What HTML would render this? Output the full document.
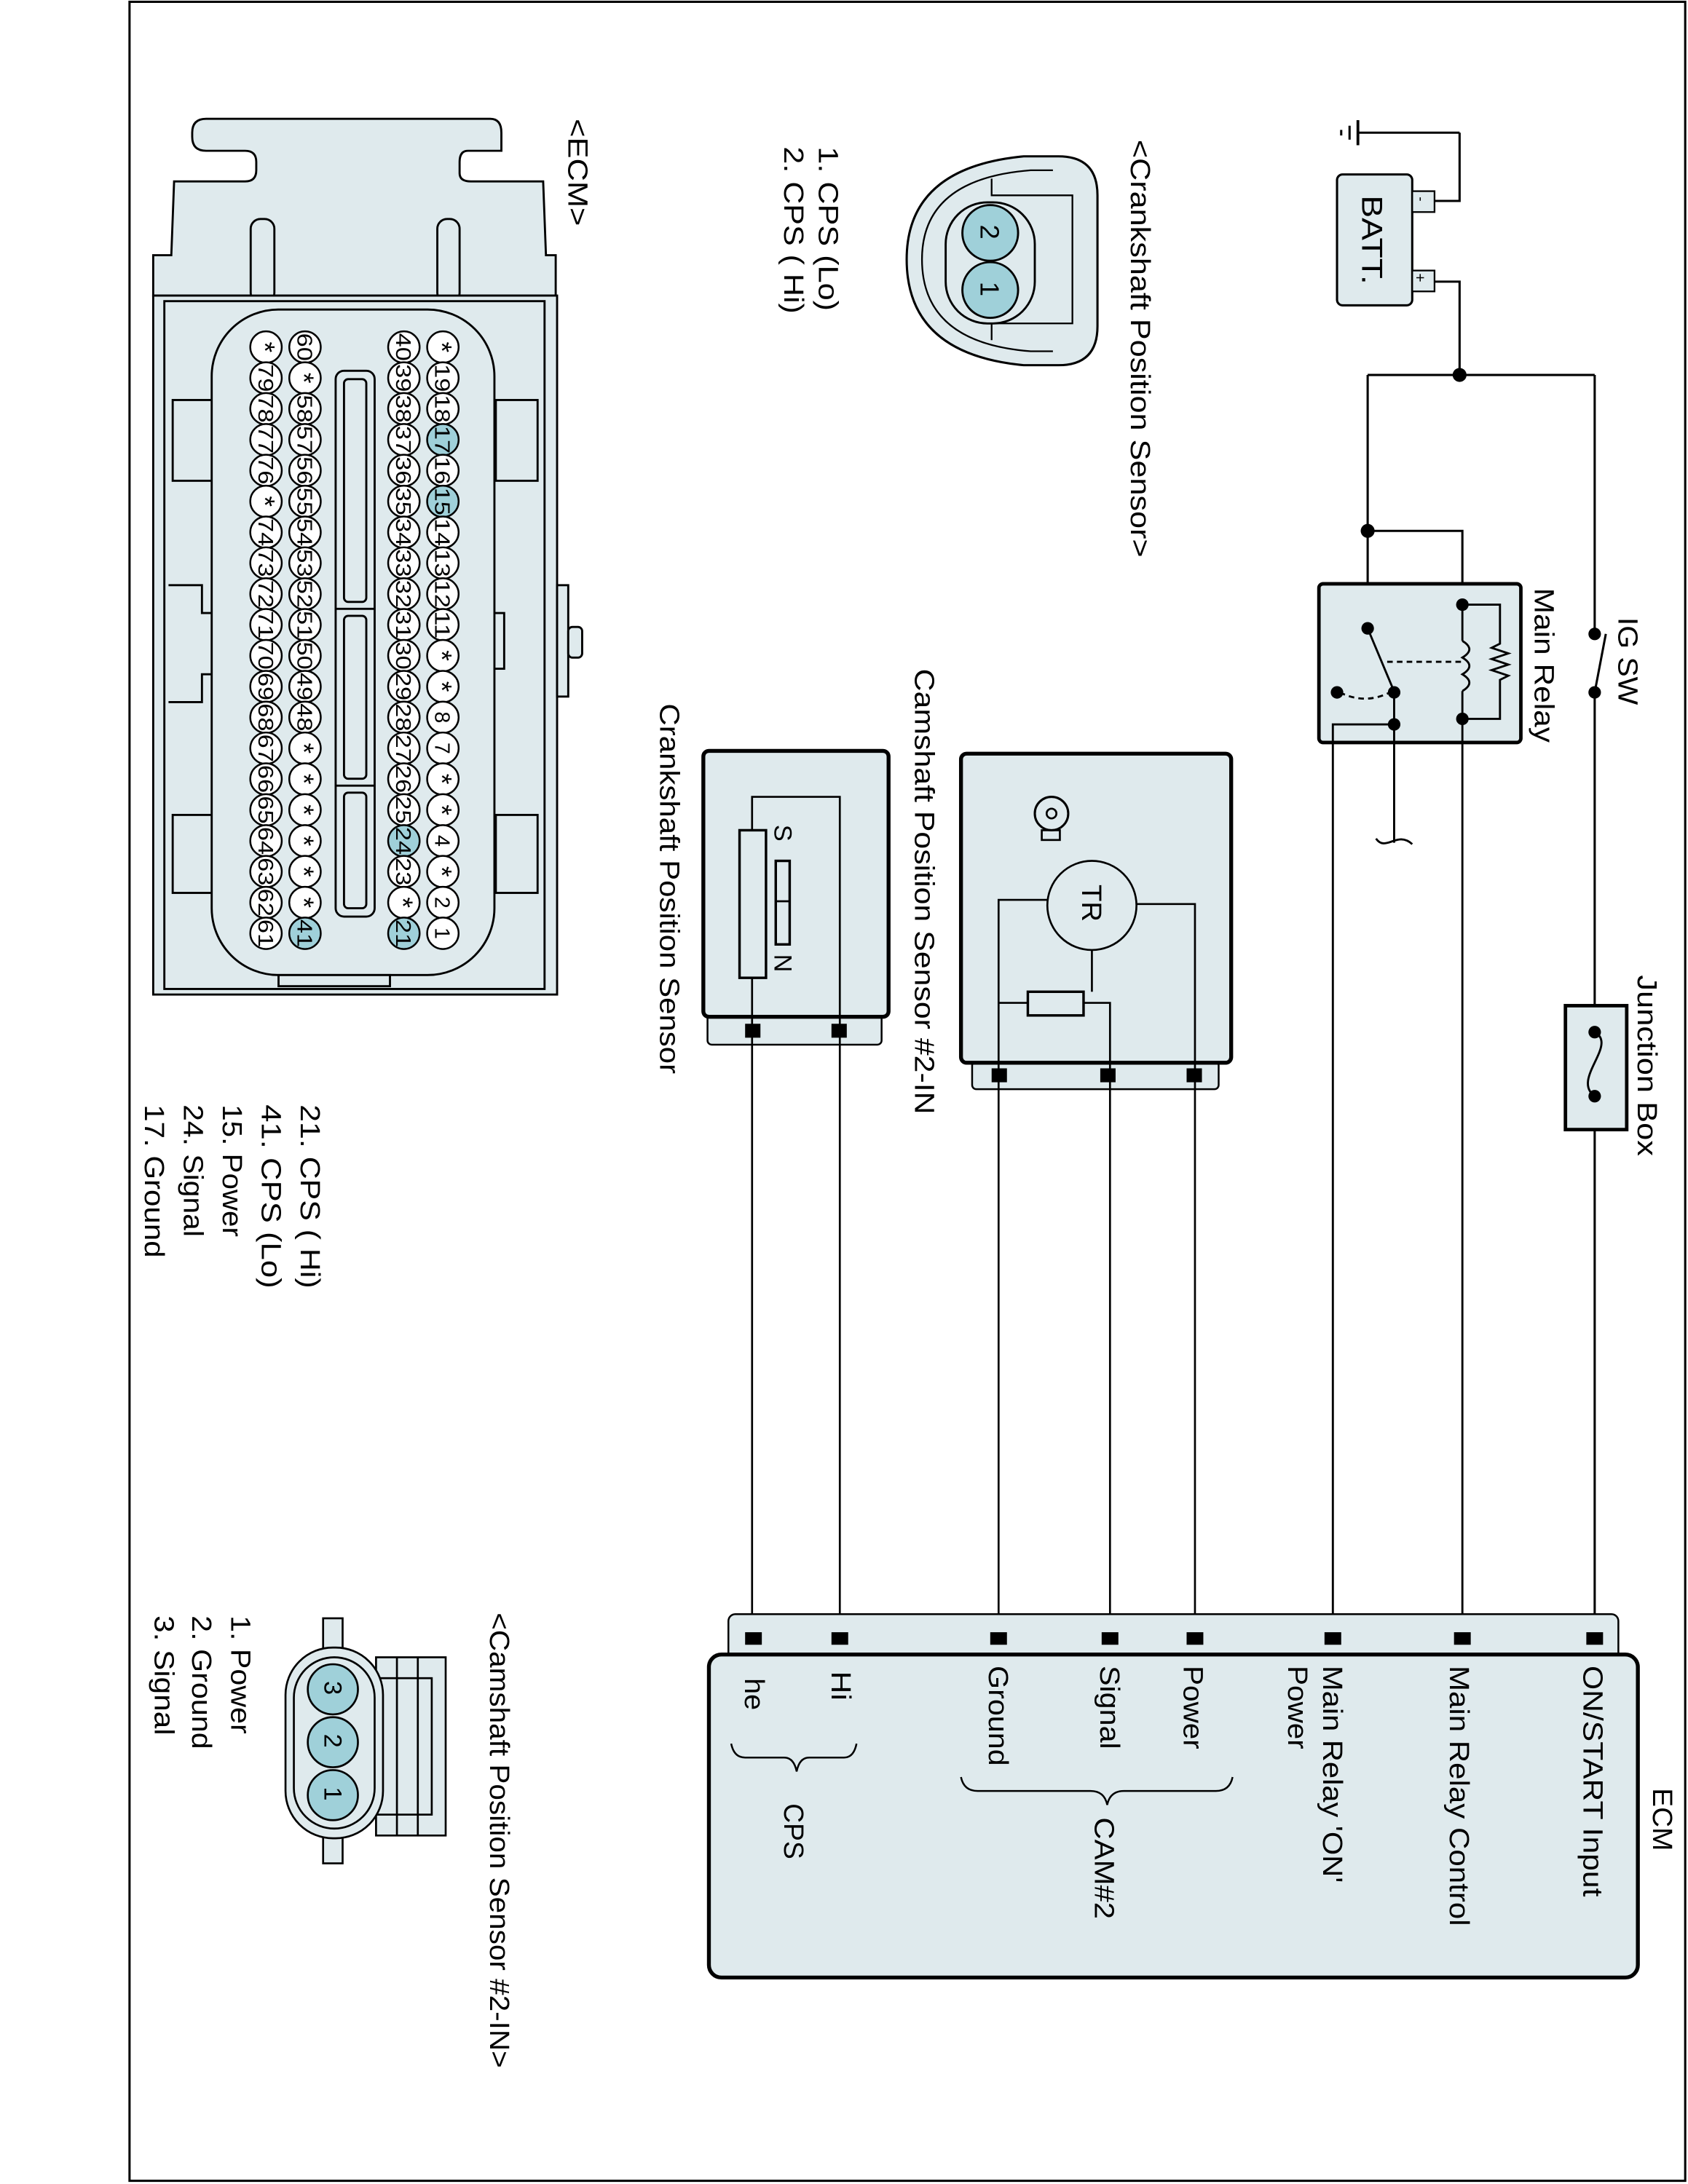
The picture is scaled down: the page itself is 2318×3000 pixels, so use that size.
<!DOCTYPE html>
<html><head><meta charset="utf-8"><style>
html,body{margin:0;padding:0;background:#fff;}
svg{display:block;}
text{font-family:"Liberation Sans",Arial,sans-serif;fill:#000;}
</style></head><body>
<svg width="2318" height="3000" viewBox="0 0 1212 1568" xmlns="http://www.w3.org/2000/svg">
<rect x="93" y="1" width="1117" height="1565" fill="none" stroke="#000" stroke-width="1.6"/>

<g stroke="#000" stroke-width="1.6" fill="none">
<line x1="975" y1="95" x2="1048" y2="95"/>
<line x1="975" y1="86" x2="975" y2="104" stroke-width="2"/>
<line x1="969" y1="90" x2="969" y2="100"/>
<line x1="963" y1="93" x2="963" y2="97"/>
<polyline points="1048,95 1048,144 1030,144"/>
<polyline points="1030,202 1048,202 1048,269"/>
<line x1="982" y1="269" x2="1145" y2="269"/>
<line x1="982" y1="269" x2="982" y2="451"/>
<polyline points="982,381 1050,381 1050,434"/>
<line x1="1145" y1="269" x2="1145" y2="455"/>
<line x1="1145" y1="497" x2="1145" y2="741"/>
<line x1="1145" y1="787" x2="1145" y2="1174"/>
<line x1="1145" y1="497" x2="1153" y2="455"/>
</g>
<rect x="960" y="125" width="54" height="94" rx="4" fill="#dfeaed" stroke="#000" stroke-width="1.6"/>
<rect x="1014" y="137" width="16" height="15" fill="#dfeaed" stroke="#000" stroke-width="1.2"/>
<rect x="1014" y="194" width="16" height="15" fill="#dfeaed" stroke="#000" stroke-width="1.2"/>
<text font-size="10" transform="translate(1017,141) rotate(90)">-</text>
<text font-size="11" transform="translate(1016,196) rotate(90)">+</text>
<text font-size="21" transform="translate(978,140) rotate(90)" textLength="64" lengthAdjust="spacingAndGlyphs">BATT.</text>
<circle cx="1048" cy="269" r="5"/>
<circle cx="982" cy="381" r="5"/>
<circle cx="1145" cy="455" r="4.5"/>
<circle cx="1145" cy="497" r="4.5"/>

<rect x="947" y="419" width="145" height="114" rx="3" fill="#dfeaed" stroke="#000" stroke-width="2.5"/>
<g stroke="#000" stroke-width="1.5" fill="none">
<line x1="982" y1="451" x2="1000" y2="494"/>
<line x1="996" y1="475" x2="1050" y2="475" stroke-dasharray="4,3"/>
<path d="M962,497 Q980,506 998,497" stroke-dasharray="4,3"/>
<polyline points="1001,520 957,520 957,1174"/>
<line x1="1001" y1="497" x2="1001" y2="605"/>
<path d="M988,602 C995,612 1003,596 1014,606"/>
<path d="M1050,434 L1050,460 M1050,460 q10,6 0,12 q10,6 0,12 q10,6 0,12 M1050,496 L1050,516"/>
<polyline points="1050,434 1077,434 1077,462 1071,465 1083,469 1071,473 1083,477 1071,481 1083,485 1077,488 1077,516 1050,516"/>
<line x1="1050" y1="516" x2="1050" y2="1174"/>
</g>
<circle cx="982" cy="451" r="4.5"/>
<circle cx="1050" cy="434" r="4.5"/>
<circle cx="1050" cy="516" r="4.5"/>
<circle cx="960" cy="497" r="4.5"/>
<circle cx="1001" cy="497" r="4.5"/>
<circle cx="1001" cy="520" r="4.5"/>
<text font-size="20" transform="translate(1102,422) rotate(90)" textLength="111" lengthAdjust="spacingAndGlyphs">Main Relay</text>
<text font-size="20" transform="translate(1162,443) rotate(90)" textLength="63" lengthAdjust="spacingAndGlyphs">IG SW</text>

<rect x="1124" y="722" width="44" height="89" fill="#dfeaed" stroke="#000" stroke-width="2.5"/>
<path d="M1145,741 C1162,750 1128,775 1145,787" stroke="#000" stroke-width="1.5" fill="none"/>
<circle cx="1145" cy="741" r="4.5"/>
<circle cx="1145" cy="787" r="4.5"/>
<text font-size="20" transform="translate(1176,700) rotate(90)" textLength="130" lengthAdjust="spacingAndGlyphs">Junction Box</text>

<rect x="698" y="762" width="177" height="20" rx="3" fill="#dfeaed" stroke="#000" stroke-width="1.3"/>
<rect x="690" y="541" width="194" height="222" rx="4" fill="#dfeaed" stroke="#000" stroke-width="2.8"/>
<g stroke="#000" stroke-width="1.4" fill="none">
<circle cx="784" cy="650" r="32"/>
<polyline points="752,646 717,646 717,1174"/>
<polyline points="816,649 858,649 858,1174"/>
<line x1="784" y1="682" x2="784" y2="712"/>
<rect x="738" y="712" width="40" height="17" stroke-width="1.8"/>
<line x1="717" y1="720" x2="738" y2="720"/>
<polyline points="778,720 797,720 797,1174"/>
<circle cx="755" cy="584" r="12" stroke-width="1.6"/>
<circle cx="755" cy="584" r="3.5"/>
<rect x="748" y="596" width="13" height="7"/>
</g>
<text font-size="20" transform="translate(777,635) rotate(90)">TR</text>
<rect x="712" y="767" width="11" height="10"/>
<rect x="790" y="767" width="11" height="10"/>
<rect x="852" y="767" width="11" height="10"/>
<text font-size="20" transform="translate(657,480) rotate(90)" textLength="320" lengthAdjust="spacingAndGlyphs">Camshaft Position Sensor #2-IN</text>

<rect x="508" y="728" width="125" height="22" rx="3" fill="#dfeaed" stroke="#000" stroke-width="1.3"/>
<rect x="505" y="539" width="133" height="191" rx="4" fill="#dfeaed" stroke="#000" stroke-width="2.8"/>
<g stroke="#000" stroke-width="1.4" fill="none">
<rect x="531" y="596" width="19" height="106" stroke-width="1.8"/>
<rect x="557" y="618" width="10" height="60" stroke-width="1.8"/>
<line x1="557" y1="647" x2="567" y2="647"/>
<polyline points="540,596 540,572 603,572 603,1174"/>
<line x1="540" y1="702" x2="540" y2="1174"/>
</g>
<text font-size="18" transform="translate(556,592) rotate(90)">S</text>
<text font-size="18" transform="translate(556,685) rotate(90)">N</text>
<rect x="535" y="735" width="11" height="10"/>
<rect x="597" y="735" width="11" height="10"/>
<text font-size="20" transform="translate(474,505) rotate(90)" textLength="266" lengthAdjust="spacingAndGlyphs">Crankshaft Position Sensor</text>

<rect x="523" y="1159" width="639" height="35" rx="5" fill="#dfeaed" stroke="#000" stroke-width="1.3"/>
<rect x="509" y="1188" width="667" height="232" rx="9" fill="#dfeaed" stroke="#000" stroke-width="2.8"/>
<g>
<rect x="1139" y="1172" width="12" height="9"/>
<rect x="1044" y="1172" width="12" height="9"/>
<rect x="951" y="1172" width="12" height="9"/>
<rect x="852" y="1172" width="12" height="9"/>
<rect x="791" y="1172" width="12" height="9"/>
<rect x="711" y="1172" width="12" height="9"/>
<rect x="597" y="1172" width="12" height="9"/>
<rect x="535" y="1172" width="12" height="9"/>
</g>
<g font-size="20">
<text transform="translate(1187,1284) rotate(90)" textLength="45" lengthAdjust="spacingAndGlyphs">ECM</text>
<text transform="translate(1137,1196) rotate(90)" textLength="166" lengthAdjust="spacingAndGlyphs">ON/START Input</text>
<text transform="translate(1041,1196) rotate(90)" textLength="187" lengthAdjust="spacingAndGlyphs">Main Relay Control</text>
<text transform="translate(950,1196) rotate(90)" textLength="156" lengthAdjust="spacingAndGlyphs">Main Relay 'ON'</text>
<text transform="translate(925,1196) rotate(90)" textLength="60" lengthAdjust="spacingAndGlyphs">Power</text>
<text transform="translate(850,1196) rotate(90)" textLength="60" lengthAdjust="spacingAndGlyphs">Power</text>
<text transform="translate(790,1196) rotate(90)" textLength="60" lengthAdjust="spacingAndGlyphs">Signal</text>
<text transform="translate(710,1196) rotate(90)" textLength="72" lengthAdjust="spacingAndGlyphs">Ground</text>
<text transform="translate(597,1200) rotate(90)" textLength="21" lengthAdjust="spacingAndGlyphs">Hi</text>
<text transform="translate(535,1205) rotate(90)" textLength="23" lengthAdjust="spacingAndGlyphs">he</text>
<text transform="translate(786,1305) rotate(90)" textLength="73" lengthAdjust="spacingAndGlyphs">CAM#2</text>
<text transform="translate(563,1295) rotate(90)" textLength="40" lengthAdjust="spacingAndGlyphs">CPS</text>
</g>
<g stroke="#000" stroke-width="1.3" fill="none">
<path d="M690,1276 Q692,1286 702,1286 L783,1286 Q793,1286 795,1296 Q797,1286 807,1286 L873,1286 Q883,1286 885,1276"/>
<path d="M525,1252 Q527,1262 535,1262 L563,1262 Q570,1262 572,1272 Q574,1262 581,1262 L606,1262 Q613,1262 615,1252"/>
</g>

<path d="M760,112 L735,112 Q651,120 651,186 Q651,254 735,262 L760,262 Q788,262 788,234 L788,140 Q788,112 760,112Z" fill="#dfeaed" stroke="#000" stroke-width="1.6"/>
<path d="M756,122 L740,122 Q662,128 662,186 Q662,246 740,252 L756,252" fill="none" stroke="#000" stroke-width="1.2"/>
<path d="M712,128 L712,140 L770,140 L770,232 L712,232 L712,244" fill="none" stroke="#000" stroke-width="1.2"/>
<rect x="679" y="145" width="64" height="87" rx="30" fill="#dfeaed" stroke="#000" stroke-width="1.5"/>
<circle cx="711" cy="167" r="20" fill="#9fd0d9" stroke="#000" stroke-width="1.5"/>
<circle cx="711" cy="208" r="20" fill="#9fd0d9" stroke="#000" stroke-width="1.5"/>
<text font-size="19" transform="translate(704,161) rotate(90)">2</text>
<text font-size="19" transform="translate(704,202) rotate(90)">1</text>
<text font-size="20" transform="translate(812,100) rotate(90)" textLength="300" lengthAdjust="spacingAndGlyphs">&lt;Crankshaft Position Sensor&gt;</text>
<text font-size="20" transform="translate(588,105) rotate(90)" textLength="118" lengthAdjust="spacingAndGlyphs">1. CPS (Lo)</text>
<text font-size="20" transform="translate(563,105) rotate(90)" textLength="120" lengthAdjust="spacingAndGlyphs">2. CPS ( Hi)</text>

<g stroke="#000" stroke-width="1.5" fill="#dfeaed">
<path d="M138,95 Q138,85 148,85 L352,85 Q360,85 360,95 L360,108 L336,108 Q330,108 330,116 L330,124 Q330,130 338,130 L390,130 L392,183 L399,183 L399,212 L110,212 L110,183 L123,183 L125,130 L176,130 Q184,130 184,122 L184,116 Q184,108 176,108 L148,108 Q138,108 138,98Z"/>
<rect x="180" y="157" width="17" height="60" rx="7"/>
<rect x="314" y="157" width="16" height="60" rx="7"/>
<rect x="110" y="212" width="290" height="502"/>
<rect x="118" y="216" width="273" height="494"/>
<rect x="400" y="420" width="8" height="80"/>
<rect x="408" y="450" width="10" height="22" rx="3"/>
<rect x="124" y="287" width="31" height="58"/>
<rect x="124" y="585" width="31" height="56"/>
<rect x="356" y="287" width="30" height="58"/>
<rect x="356" y="585" width="30" height="56"/>
<path d="M121,420 L145,420 L145,440 L155,440 L155,484 L145,484 L145,504 L121,504" />
<rect x="350" y="440" width="12" height="40"/>
<rect x="152" y="222" width="203" height="478" rx="48"/>
<rect x="241" y="266" width="28" height="392" rx="6"/>
<line x1="241" y1="437" x2="269" y2="437"/>
<line x1="241" y1="564" x2="269" y2="564"/>
<rect x="247" y="272" width="16" height="160" rx="3"/>
<rect x="247" y="442" width="16" height="117" rx="3"/>
<rect x="247" y="569" width="16" height="83" rx="3"/>
<rect x="200" y="700" width="80" height="8"/>
</g>
<g id="pins" stroke="#000" stroke-width="1.3"></g>
<text font-size="20" transform="translate(408,85) rotate(90)" textLength="77" lengthAdjust="spacingAndGlyphs">&lt;ECM&gt;</text>
<g font-size="20">
<text transform="translate(216,793) rotate(90)" textLength="132" lengthAdjust="spacingAndGlyphs">21. CPS ( Hi)</text>
<text transform="translate(188,793) rotate(90)" textLength="132" lengthAdjust="spacingAndGlyphs">41. CPS (Lo)</text>
<text transform="translate(160,793) rotate(90)" textLength="95" lengthAdjust="spacingAndGlyphs">15. Power</text>
<text transform="translate(132,793) rotate(90)" textLength="95" lengthAdjust="spacingAndGlyphs">24. Signal</text>
<text transform="translate(104,793) rotate(90)" textLength="110" lengthAdjust="spacingAndGlyphs">17. Ground</text>
</g>

<g stroke="#000" stroke-width="1.4" fill="#dfeaed">
<rect x="232" y="1162" width="14" height="176"/>
<rect x="270" y="1190" width="50" height="128"/>
<rect x="270" y="1205" width="40" height="98"/>
<line x1="285" y1="1190" x2="285" y2="1318"/>
<line x1="300" y1="1190" x2="300" y2="1318"/>
<rect x="205" y="1183" width="70" height="137" rx="34"/>
<rect x="211" y="1190" width="58" height="123" rx="29"/>
<circle cx="239" cy="1213" r="18" fill="#9fd0d9"/>
<circle cx="239" cy="1251" r="18" fill="#9fd0d9"/>
<circle cx="239" cy="1289" r="18" fill="#9fd0d9"/>
</g>
<text font-size="18" transform="translate(233,1207) rotate(90)">3</text>
<text font-size="18" transform="translate(233,1245) rotate(90)">2</text>
<text font-size="18" transform="translate(233,1283) rotate(90)">1</text>
<text font-size="20" transform="translate(352,1158) rotate(90)" textLength="327" lengthAdjust="spacingAndGlyphs">&lt;Camshaft Position Sensor #2-IN&gt;</text>
<g font-size="20">
<text transform="translate(166,1160) rotate(90)" textLength="85" lengthAdjust="spacingAndGlyphs">1. Power</text>
<text transform="translate(138,1160) rotate(90)" textLength="96" lengthAdjust="spacingAndGlyphs">2. Ground</text>
<text transform="translate(111,1160) rotate(90)" textLength="86" lengthAdjust="spacingAndGlyphs">3. Signal</text>
</g>
</svg>
<script>
(function(){
var rows=[[318,["*","19","18","17","16","15","14","13","12","11","*","*","8","7","*","*","4","*","2","1"]],
[290,["40","39","38","37","36","35","34","33","32","31","30","29","28","27","26","25","24","23","*","21"]],
[219,["60","*","58","57","56","55","54","53","52","51","50","49","48","*","*","*","*","*","*","41"]],
[191,["*","79","78","77","76","*","74","73","72","71","70","69","68","67","66","65","64","63","62","61"]]];
var hl={"17":1,"15":1,"24":1,"21":1,"41":1};
var g=document.getElementById("pins"),h="";
rows.forEach(function(r){r[1].forEach(function(l,i){var y=249+i*22.16;
h+='<circle cx="'+r[0]+'" cy="'+y.toFixed(1)+'" r="11.3" fill="'+(hl[l]?'#9fd0d9':'#ffffff')+'"/>';
var fs=l=="*"?20:15;
h+='<text stroke="none" font-size="'+fs+'" text-anchor="middle" '+(l.length==2?'textLength="20" lengthAdjust="spacingAndGlyphs" ':'')+'transform="translate('+(r[0]-(l=="*"?7.5:5.5))+','+y.toFixed(1)+') rotate(90)">'+l+'</text>';});});
g.innerHTML=h;})();
</script>
</body></html>
